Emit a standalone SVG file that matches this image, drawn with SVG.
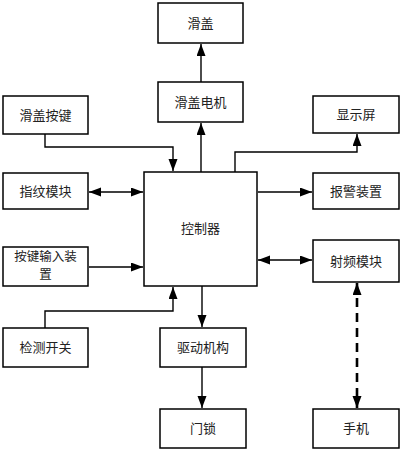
<svg xmlns="http://www.w3.org/2000/svg" width="401" height="450" viewBox="0 0 401 450">
<style>
rect{fill:#fff;stroke:#000;stroke-width:1.5}
text{font-family:"Noto Sans CJK SC","Liberation Sans",sans-serif;font-size:13px;text-anchor:middle;fill:#222}
.c{fill:none;stroke:#000;stroke-width:1.4}
.d{fill:none;stroke:#000;stroke-width:2.6;stroke-dasharray:9,6}
</style>
<defs>
<marker id="a" markerUnits="userSpaceOnUse" markerWidth="13" markerHeight="10" refX="12" refY="4.5" orient="auto-start-reverse" viewBox="0 0 13 10"><path d="M0,0 L12,4.5 L0,9 z" fill="#000"/></marker>
</defs>
<rect x="0" y="0" width="401" height="450" style="fill:#fff;stroke:none"/>
<g id="connectors">
<path class="c" d="M45,134 V147 H173 V171" marker-end="url(#a)"/>
<path class="c" d="M89,192 H143" marker-start="url(#a)" marker-end="url(#a)"/>
<path class="c" d="M89,267 H143" marker-end="url(#a)"/>
<path class="c" d="M45,328 V311 H173 V287" marker-end="url(#a)"/>
<path class="c" d="M201,172 V123" marker-end="url(#a)"/>
<path class="c" d="M201,82 V44" marker-end="url(#a)"/>
<path class="c" d="M235,172 V152 H357 V134" marker-end="url(#a)"/>
<path class="c" d="M258,192 H312" marker-end="url(#a)"/>
<path class="c" d="M258,260 H312" marker-start="url(#a)" marker-end="url(#a)"/>
<path class="c" d="M202,286 V327" marker-end="url(#a)"/>
<path class="c" d="M202,367 V408" marker-end="url(#a)"/>
<path class="d" d="M357,283 V408" marker-start="url(#a)" marker-end="url(#a)"/>
</g>
<g id="huagai"><rect x="158" y="3" width="85" height="40"/><text x="200.5" y="27.5">滑盖</text></g>
<g id="huagai-dianji"><rect x="158" y="82" width="85" height="40"/><text x="200.5" y="106.5">滑盖电机</text></g>
<g id="huagai-anjian"><rect x="3" y="96" width="85" height="38"/><text x="45.5" y="119.5">滑盖按键</text></g>
<g id="xianshiping"><rect x="313" y="96" width="86" height="37"/><text x="356" y="119">显示屏</text></g>
<g id="zhiwen"><rect x="3" y="173" width="85" height="36"/><text x="45.5" y="195.5">指纹模块</text></g>
<g id="kongzhiqi"><rect x="144" y="172" width="113" height="114"/><text x="200.5" y="233">控制器</text></g>
<g id="baojing"><rect x="313" y="173" width="86" height="36"/><text x="356" y="195.5">报警装置</text></g>
<g id="anjian-shuru"><rect x="3" y="247" width="85" height="39"/><text x="45.5" y="261" style="font-size:12.5px">按键输入装</text><text x="45.5" y="279" style="font-size:12.5px">置</text></g>
<g id="shepin"><rect x="313" y="240" width="86" height="42"/><text x="356" y="265.5">射频模块</text></g>
<g id="jiance"><rect x="3" y="328" width="85" height="39"/><text x="45.5" y="352">检测开关</text></g>
<g id="qudong"><rect x="160" y="328" width="86" height="39"/><text x="203" y="352">驱动机构</text></g>
<g id="mensuo"><rect x="160" y="409" width="86" height="39"/><text x="203" y="433">门锁</text></g>
<g id="shouji"><rect x="313" y="409" width="86" height="39"/><text x="356" y="433">手机</text></g>
</svg>
